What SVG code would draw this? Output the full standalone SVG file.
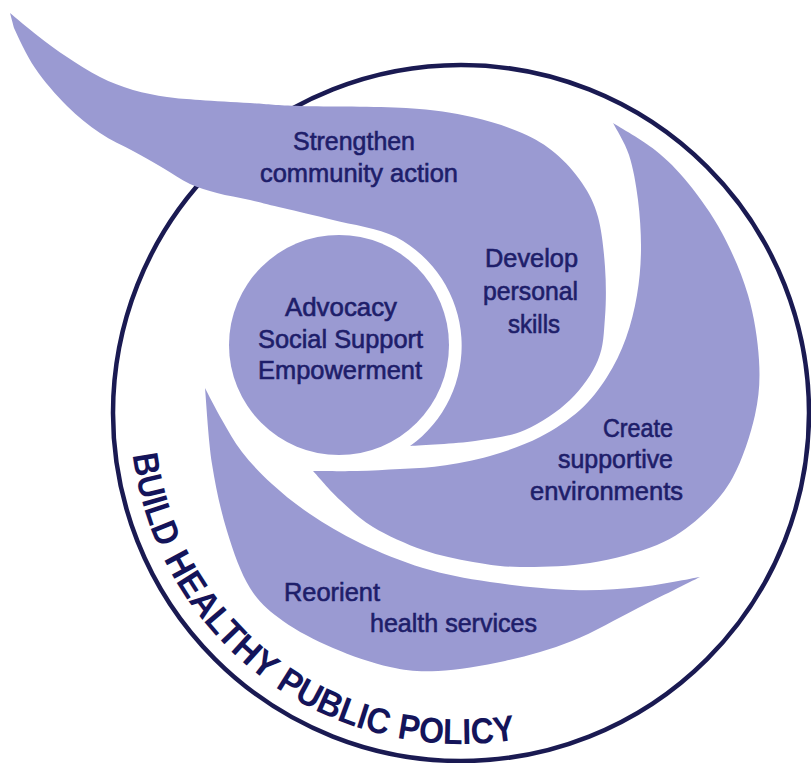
<svg xmlns="http://www.w3.org/2000/svg" width="811" height="763" viewBox="0 0 811 763">
  <style>
    .shape { fill: #9a9ad2; }
    .lbl { font-family: "Liberation Sans", Arial, sans-serif; font-size: 25px; fill: #1e1e6a; stroke: #1e1e6a; stroke-width: 0.6px; }
    .ring { fill: none; stroke: #1a1a52; stroke-width: 4.5; }
    .policy { font-family: "Liberation Sans", Arial, sans-serif; font-size: 36px; font-weight: bold; fill: #14145a; }
  </style>
  <defs>
    <path id="policyArc" d="M132.7,455.1 A331,331 0 0 0 600.9,713"/>
  </defs>
  <rect x="0" y="0" width="811" height="763" fill="#ffffff"/>

  <g id="outer-circle">
    <circle class="ring" cx="461" cy="413" r="348"/>
  </g>

  <g id="build-healthy-public-policy">
    <text class="policy"><textPath href="#policyArc" startOffset="0" textLength="97" lengthAdjust="spacingAndGlyphs">BUILD</textPath></text>
    <text class="policy"><textPath href="#policyArc" startOffset="108.6" textLength="161.8" lengthAdjust="spacingAndGlyphs">HEALTHY</textPath></text>
    <text class="policy"><textPath href="#policyArc" startOffset="280.2" textLength="122.5" lengthAdjust="spacingAndGlyphs">PUBLIC</textPath></text>
    <text class="policy"><textPath href="#policyArc" startOffset="413" textLength="119.6" lengthAdjust="spacingAndGlyphs">POLICY</textPath></text>
  </g>

  <g id="strengthen-community-action">
    <path class="shape" d="M10,13 C14.7,16.8 28.5,28.7 38,36 C47.5,43.3 56.7,50.2 67,57 C77.3,63.8 89,71.5 100,77 C111,82.5 121.8,86.7 133,90 C144.2,93.3 155.8,95.3 167,97 C178.2,98.7 186.2,99 200,100 C213.8,101 233.3,102 250,103 C266.7,104 274,105.2 300,106 C326,106.8 377.3,106.2 406,108 C434.7,109.8 452.7,112.8 472,117 C491.3,121.2 508.2,127 522,133 C535.8,139 545,144.7 555,153 C565,161.3 574.8,172.3 582,183 C589.2,193.7 594.2,203 598,217 C601.8,231 603.8,250.3 605,267 C606.2,283.7 606.2,301.5 605,317 C603.8,332.5 603.8,346.2 598,360 C592.2,373.8 582.2,388.3 570,400 C557.8,411.7 540.8,423.2 525,430 C509.2,436.8 494.2,438.3 475,441 C455.8,443.7 420.8,445.2 410,446 A123,123 0 0 0 396,237 C378,228 351.8,224.8 333,220 C314.2,215.2 296.8,211.3 283,208 C269.2,204.7 261,202.5 250,200 C239,197.5 227,195.7 217,193 C207,190.3 199,188.2 190,184 C181,179.8 172.5,173.5 163,168 C153.5,162.5 143.5,156.8 133,151 C122.5,145.2 111,140.5 100,133 C89,125.5 77.8,116.8 67,106 C56.2,95.2 43.8,81 35,68 C26.2,55 18.2,37.2 14,28 C13.3,25.5 10.7,15.5 10,13 Z"/>
    <text class="lbl" x="293" y="150" textLength="122" lengthAdjust="spacingAndGlyphs">Strengthen</text>
    <text class="lbl" x="260" y="182" textLength="198" lengthAdjust="spacingAndGlyphs">community action</text>
    <text class="lbl" x="485" y="267" textLength="93" lengthAdjust="spacingAndGlyphs">Develop</text>
    <text class="lbl" x="483" y="300" textLength="95" lengthAdjust="spacingAndGlyphs">personal</text>
    <text class="lbl" x="508" y="333" textLength="52" lengthAdjust="spacingAndGlyphs">skills</text>
  </g>

  <g id="advocacy-core">
    <circle class="shape" cx="339" cy="345" r="110"/>
    <text class="lbl" x="285" y="316" textLength="112" lengthAdjust="spacingAndGlyphs">Advocacy</text>
    <text class="lbl" x="258" y="348" textLength="165" lengthAdjust="spacingAndGlyphs">Social Support</text>
    <text class="lbl" x="258" y="379" textLength="164" lengthAdjust="spacingAndGlyphs">Empowerment</text>
  </g>

  <g id="create-supportive-environments">
    <path class="shape" d="M613,123 C620,127.5 642.5,140 655,150 C667.5,160 676.8,169.2 688,183 C699.2,196.8 712,214.3 722,233 C732,251.7 741.8,273.8 748,295 C754.2,316.2 757.8,340 759,360 C760.2,380 759.3,395.5 755,415 C750.7,434.5 742.2,460 733,477 C723.8,494 712.7,505.7 700,517 C687.3,528.3 675.3,537.3 657,545 C638.7,552.7 612.8,559.3 590,563 C567.2,566.7 539.5,567.2 520,567 C500.5,566.8 489.2,564.8 473,562 C456.8,559.2 439.7,555.8 423,550 C406.3,544.2 386.8,535.3 373,527 C359.2,518.7 350,509 340,500 C330,491 317.5,475.5 313,471 C320.3,471 342.5,471.3 357,471 C371.5,470.7 386.2,469.8 400,469 C413.8,468.2 425,468.2 440,466 C455,463.8 473.3,460.8 490,456 C506.7,451.2 525,444.7 540,437 C555,429.3 568.8,420 580,410 C591.2,400 599.3,389 607,377 C614.7,365 621,351.7 626,338 C631,324.3 634.5,309.7 637,295 C639.5,280.3 640.8,265.8 641,250 C641.2,234.2 640,215.8 638,200 C636,184.2 633.2,167.8 629,155 C624.8,142.2 615.7,128.3 613,123 Z"/>
    <text class="lbl" x="603" y="437" textLength="70" lengthAdjust="spacingAndGlyphs">Create</text>
    <text class="lbl" x="558" y="468" textLength="115" lengthAdjust="spacingAndGlyphs">supportive</text>
    <text class="lbl" x="530" y="500" textLength="153" lengthAdjust="spacingAndGlyphs">environments</text>
  </g>

  <g id="reorient-health-services">
    <path class="shape" d="M205,388 C207.8,393.3 215.8,409.3 222,420 C228.2,430.7 233.7,441.3 242,452 C250.3,462.7 260.7,473.7 272,484 C283.3,494.3 295.3,504.2 310,514 C324.7,523.8 341.2,534 360,543 C378.8,552 401.3,561.5 423,568 C444.7,574.5 465,578.3 490,582 C515,585.7 548,589.2 573,590 C598,590.8 618.8,589.2 640,587 C661.2,584.8 690,578.7 700,577 C689.7,582.2 659.3,597.3 638,608 C616.7,618.7 594.2,632.2 572,641 C549.8,649.8 527.3,656 505,661 C482.7,666 457.2,670 438,671 C418.8,672 407.5,670.8 390,667 C372.5,663.2 350.8,655.7 333,648 C315.2,640.3 296.8,631 283,621 C269.2,611 259.3,603 250,588 C240.7,573 233.3,551.7 227,531 C220.7,510.3 215.7,487.8 212,464 C208.3,440.2 206.2,400.7 205,388 Z"/>
    <text class="lbl" x="284" y="601" textLength="96" lengthAdjust="spacingAndGlyphs">Reorient</text>
    <text class="lbl" x="370" y="632" textLength="167" lengthAdjust="spacingAndGlyphs">health services</text>
  </g>

  <g id="connectors"></g>
</svg>
